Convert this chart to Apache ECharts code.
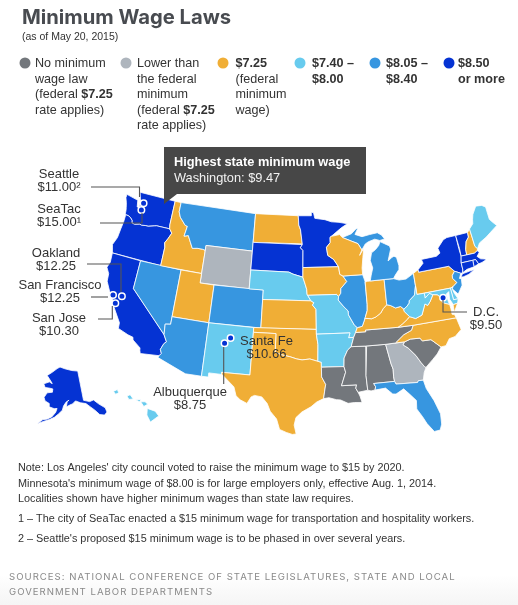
<!DOCTYPE html>
<html>
<head>
<meta charset="utf-8">
<style>html,body{margin:0;padding:0;background:#fff}#main{width:518px;height:605px}</style>
<script src="https://cdn.jsdelivr.net/npm/echarts@6/dist/echarts.min.js"></script>
</head>
<body>
<div id="main"></div>
<script>
// wage groups, one array of states per legend entry
var noLawStates = ['Louisiana', 'Mississippi', 'Alabama', 'Tennessee', 'South Carolina'];
var lowerStates = ['Wyoming', 'Georgia'];
var federalStates = ['Idaho', 'Utah', 'North Dakota', 'Kansas', 'Oklahoma', 'Texas', 'Iowa', 'Wisconsin', 'Indiana', 'Kentucky', 'Pennsylvania', 'North Carolina', 'Virginia', 'New Hampshire'];
var lowMidStates = ['Maine', 'Nebraska', 'Missouri', 'Arkansas', 'New Mexico', 'Hawaii', 'West Virginia', 'Delaware', 'Maryland'];
var highMidStates = ['Montana', 'Nevada', 'Arizona', 'Colorado', 'Illinois', 'Michigan', 'Ohio', 'Florida', 'New Jersey'];
var highStates = ['Washington', 'Oregon', 'California', 'Alaska', 'Minnesota', 'South Dakota', 'New York', 'Vermont', 'Massachusetts', 'Connecticut', 'Rhode Island'];

// localities, [name, wage label, lon, lat] - bay area and seattle pulled apart like the original
var cities = [
    ['Seattle', '$11.00²', -121.8, 47.98],
    ['SeaTac', '$15.00¹', -121.85, 47.22],
    ['Oakland', '$12.25', -121.25, 37.9],
    ['San Francisco', '$12.25', -122.45, 37.77],
    ['San Jose', '$10.30', -121.85, 37.0],
    ['Santa Fe', '$10.66', -105.94, 35.69],
    ['Albuquerque', '$8.75', -106.65, 35.08],
    ['D.C.', '$9.50', -77.04, 38.9]
];

var legendItems = [
    '{n|No minimum}\n{n|wage law}\n{n|(federal }{b|$7.25}\n{n|rate applies)}',
    '{n|Lower than}\n{n|the federal}\n{n|minimum}\n{n|(federal }{b|$7.25}\n{n|rate applies)}',
    '{b|$7.25}\n{n|(federal}\n{n|minimum}\n{n|wage)}',
    '{b|$7.40 –}\n{b|$8.00}',
    '{b|$8.05 –}\n{b|$8.40}',
    '{b|$8.50}\n{b|or more}'
];

var noteLines = [
    "Note: Los Angeles' city council voted to raise the minimum wage to $15 by 2020.",
    "Minnesota's minimum wage of $8.00 is for large employers only, effective Aug. 1, 2014.",
    'Localities shown have higher minimum wages than state law requires.',
    '1 – The city of SeaTac enacted a $15 minimum wage for transportation and hospitality workers.',
    "2 – Seattle's proposed $15 minimum wage is to be phased in over several years."
];
var sourceLines = [
    'SOURCES: NATIONAL CONFERENCE OF STATE LEGISLATURES, STATE AND LOCAL',
    'GOVERNMENT LABOR DEPARTMENTS'
];

// rough state outlines in lon/lat
var stateShapes = {
    'Washington': [[[-124.7,48.38],[-123.1,48.15],[-122.8,48.1],[-122.6,47.4],[-122.3,47.4],[-122.3,48.0],[-122.5,48.4],[-122.8,49],[-117.03,49],[-117.03,46.42],[-116.92,46],[-118.98,46],[-119.3,45.93],[-120.2,45.73],[-120.65,45.73],[-121.2,45.65],[-121.5,45.72],[-122.25,45.55],[-122.7,45.62],[-122.8,45.9],[-123.2,46.15],[-123.55,46.25],[-124.05,46.27],[-124.1,46.7],[-124.2,47],[-124.4,47.5],[-124.7,48]]],
    'Oregon': [[[-124.05,46.27],[-123.55,46.25],[-123.2,46.15],[-122.8,45.9],[-122.7,45.62],[-122.25,45.55],[-121.5,45.72],[-121.2,45.65],[-120.65,45.73],[-120.2,45.73],[-119.3,45.93],[-118.98,46],[-116.92,46],[-116.47,45.6],[-116.85,44.95],[-117.2,44.45],[-117.03,44],[-117.03,42],[-124.2,42],[-124.4,42.5],[-124.55,42.85],[-124.15,43.7],[-124.05,44.7],[-123.95,45.5],[-123.95,46.2]]],
    'California': [[[-124.2,42],[-120,42],[-120,39],[-114.63,35],[-114.14,34.3],[-114.43,34.05],[-114.72,33.4],[-114.5,33],[-114.72,32.72],[-117.12,32.53],[-117.25,32.85],[-117.3,33.1],[-118.4,33.75],[-118.5,34.03],[-119.2,34.15],[-120.6,34.55],[-120.65,35.15],[-121.9,36.6],[-122,36.95],[-122.5,37.5],[-122.5,37.8],[-123,38],[-123.75,39],[-123.85,39.8],[-124.35,40.4],[-124.1,41]]],
    'Nevada': [[[-120,42],[-114.04,42],[-114.04,36.2],[-114.75,36.1],[-114.63,35],[-120,39]]],
    'Idaho': [[[-117.03,49],[-116.05,49],[-116.05,48],[-115.7,47.45],[-114.7,46.7],[-114.35,46.65],[-114.56,45.56],[-113.94,45.7],[-113.45,45.05],[-113,44.45],[-112.3,44.55],[-111.5,44.55],[-111.05,44.48],[-111.05,42],[-117.03,42],[-117.03,44],[-117.2,44.45],[-116.85,44.95],[-116.47,45.6],[-116.92,46],[-117.03,46.42]]],
    'Montana': [[[-116.05,49],[-104.05,49],[-104.05,45],[-111.05,45],[-111.05,44.48],[-111.5,44.55],[-112.3,44.55],[-113,44.45],[-113.45,45.05],[-113.94,45.7],[-114.56,45.56],[-114.35,46.65],[-114.7,46.7],[-115.7,47.45],[-116.05,48]]],
    'Wyoming': [[[-111.05,45],[-104.05,45],[-104.05,41],[-111.05,41]]],
    'Utah': [[[-114.04,42],[-111.05,42],[-111.05,41],[-109.05,41],[-109.05,37],[-114.04,37]]],
    'Arizona': [[[-114.04,37],[-109.05,37],[-109.05,31.33],[-111.07,31.33],[-114.81,32.5],[-114.72,32.72],[-114.5,33],[-114.72,33.4],[-114.43,34.05],[-114.14,34.3],[-114.63,35],[-114.75,36.1],[-114.04,36.2]]],
    'Colorado': [[[-109.05,41],[-102.05,41],[-102.05,37],[-109.05,37]]],
    'New Mexico': [[[-109.05,37],[-103,37],[-103,36.5],[-103.04,32],[-106.62,32],[-106.53,31.78],[-108.2,31.78],[-108.2,31.33],[-109.05,31.33]]],
    'North Dakota': [[[-104.05,49],[-97.23,49],[-97.13,48],[-96.85,47.5],[-96.56,46],[-96.56,45.93],[-104.05,45.93]]],
    'South Dakota': [[[-104.05,45.93],[-96.56,45.93],[-96.85,45.6],[-96.45,45.3],[-96.45,43.5],[-96.45,42.49],[-97.9,42.8],[-98.5,43],[-104.05,43]]],
    'Nebraska': [[[-104.05,43],[-98.5,43],[-97.9,42.8],[-96.45,42.49],[-96.1,41.7],[-95.9,41.2],[-95.85,40.7],[-95.31,40],[-102.05,40],[-102.05,41],[-104.05,41]]],
    'Kansas': [[[-102.05,40],[-95.31,40],[-94.9,39.8],[-95.1,39.55],[-94.62,39.1],[-94.62,37],[-102.05,37]]],
    'Oklahoma': [[[-103,37],[-94.62,37],[-94.62,36.5],[-94.43,35.4],[-94.48,33.64],[-95.5,33.9],[-96.5,33.8],[-97.2,33.9],[-98.1,34.13],[-99.2,34.3],[-100,34.56],[-100,36.5],[-103,36.5]]],
    'Texas': [[[-103,36.5],[-100,36.5],[-100,34.56],[-99.2,34.3],[-98.1,34.13],[-97.2,33.9],[-96.5,33.8],[-95.5,33.9],[-94.48,33.64],[-94.04,33.55],[-94.04,33.02],[-94.04,32],[-93.55,31.2],[-93.7,30.5],[-93.85,29.7],[-94.7,29.35],[-95.4,28.85],[-96.5,28.3],[-97.2,27.7],[-97.4,26.9],[-97.15,25.95],[-97.6,25.9],[-98.3,26.1],[-99.1,26.4],[-99.5,27.5],[-100.3,28.3],[-100.7,29.1],[-101.4,29.77],[-102.3,29.88],[-102.7,29.7],[-103.15,28.98],[-104,29.3],[-104.55,29.7],[-104.9,30.6],[-106.53,31.78],[-106.62,32],[-103.04,32]]],
    'Minnesota': [[[-97.23,49],[-95.15,49],[-95.15,49.38],[-94.8,49.33],[-94.6,48.72],[-93,48.55],[-92,48.3],[-90.8,48.2],[-89.5,48],[-90.5,47.6],[-92.1,46.75],[-92.3,46.65],[-92.3,46.1],[-92.9,45.6],[-92.75,44.75],[-91.9,44.3],[-91.22,43.5],[-96.45,43.5],[-96.45,45.3],[-96.85,45.6],[-96.56,45.93],[-96.56,46],[-96.85,47.5],[-97.13,48]]],
    'Iowa': [[[-96.45,43.5],[-91.22,43.5],[-91.1,42.7],[-90.65,42.5],[-90.15,41.9],[-91.05,41.2],[-91.1,40.7],[-91.42,40.38],[-91.7,40.6],[-95.77,40.58],[-95.85,40.7],[-95.9,41.2],[-96.1,41.7],[-96.45,42.49]]],
    'Missouri': [[[-95.77,40.58],[-91.7,40.6],[-91.42,40.38],[-91.5,40],[-90.75,39.25],[-90.2,38.8],[-90.2,38.4],[-89.5,37.3],[-89.13,37],[-89.4,36.5],[-89.7,36],[-90.37,36],[-90.15,36.5],[-94.62,36.5],[-94.62,39.1],[-95.1,39.55],[-94.9,39.8],[-95.31,40]]],
    'Arkansas': [[[-94.62,36.5],[-90.15,36.5],[-90.37,36],[-89.7,36],[-90.1,35.05],[-90.6,34.7],[-91.1,33.9],[-91.17,33],[-94.04,33.02],[-94.04,33.55],[-94.48,33.64],[-94.43,35.4]]],
    'Louisiana': [[[-94.04,33.02],[-91.17,33],[-91,32.4],[-91.6,31],[-89.73,31],[-89.85,30.65],[-89.6,30.2],[-89.4,29.8],[-89.2,29.1],[-90.1,29.15],[-90.9,29.1],[-91.8,29.5],[-92.3,29.55],[-93.2,29.78],[-93.85,29.7],[-93.7,30.5],[-93.55,31.2],[-94.04,32]]],
    'Mississippi': [[[-90.1,35.05],[-88.2,35],[-88.1,34.9],[-88.47,31.9],[-88.4,30.35],[-89.6,30.2],[-89.85,30.65],[-89.73,31],[-91.6,31],[-91,32.4],[-91.17,33],[-91.1,33.9],[-90.6,34.7]]],
    'Alabama': [[[-88.2,35],[-85.6,34.98],[-85.18,32.87],[-85,32.3],[-85.05,31.5],[-85,31],[-87.6,31],[-87.4,30.65],[-87.5,30.3],[-88,30.25],[-88.4,30.35],[-88.47,31.9],[-88.1,34.9]]],
    'Georgia': [[[-85.6,34.98],[-83.1,35],[-83.35,34.7],[-82.75,34.3],[-81.9,33.4],[-81.4,32.6],[-81,32.05],[-80.85,32.03],[-81.2,31.5],[-81.45,30.72],[-82.05,30.75],[-82.2,30.57],[-84.86,30.7],[-85,31],[-85.05,31.5],[-85,32.3],[-85.18,32.87]]],
    'Florida': [[[-87.6,31],[-85,31],[-84.86,30.7],[-82.2,30.57],[-82.05,30.75],[-81.45,30.72],[-81.25,29.8],[-80.55,28.4],[-80.05,26.9],[-80.12,25.8],[-80.4,25.2],[-81.1,25.15],[-81.8,26.1],[-82.2,26.9],[-82.75,27.8],[-82.65,28.7],[-83.4,29.5],[-84,30.1],[-85,29.65],[-85.4,29.7],[-86.2,30.4],[-87.5,30.3],[-87.4,30.65]]],
    'South Carolina': [[[-83.1,35],[-82.3,35.2],[-81.05,35.15],[-80.8,34.82],[-79.67,34.8],[-78.55,33.86],[-79.2,33.2],[-79.9,32.7],[-80.85,32.03],[-81,32.05],[-81.4,32.6],[-81.9,33.4],[-82.75,34.3],[-83.35,34.7]]],
    'North Carolina': [[[-84.32,35],[-83.1,35],[-82.3,35.2],[-81.05,35.15],[-80.8,34.82],[-79.67,34.8],[-78.55,33.86],[-77.9,33.9],[-77.3,34.55],[-76.5,34.65],[-75.55,35.25],[-75.85,36.55],[-81.68,36.59],[-82,36.1],[-83.1,35.75]]],
    'Tennessee': [[[-90.1,35.05],[-88.2,35],[-85.6,34.98],[-84.32,35],[-83.1,35.75],[-82,36.1],[-81.68,36.59],[-83.68,36.6],[-88.07,36.68],[-88.05,36.5],[-89.4,36.5],[-89.7,36]]],
    'Kentucky': [[[-89.4,36.5],[-88.05,36.5],[-88.07,36.68],[-83.68,36.6],[-83.1,36.85],[-82.3,37.3],[-81.97,37.54],[-82.6,38.17],[-82.6,38.42],[-83,38.73],[-83.7,38.65],[-84.3,38.95],[-84.85,39.1],[-85.4,38.73],[-85.8,38.3],[-86.5,37.95],[-87.1,37.8],[-87.9,37.9],[-88.05,37.8],[-88.45,37.1],[-89.13,37]]],
    'Illinois': [[[-90.65,42.5],[-87.8,42.5],[-87.55,41.8],[-87.53,41.7],[-87.53,39.35],[-87.6,38.7],[-87.95,38],[-88.05,37.8],[-88.45,37.1],[-89.13,37],[-89.5,37.3],[-90.2,38.4],[-90.2,38.8],[-90.75,39.25],[-91.5,40],[-91.42,40.38],[-91.1,40.7],[-91.05,41.2],[-90.15,41.9]]],
    'Indiana': [[[-87.53,41.7],[-87.2,41.75],[-86.8,41.76],[-84.8,41.76],[-84.85,39.1],[-85.4,38.73],[-85.8,38.3],[-86.5,37.95],[-87.1,37.8],[-87.9,37.9],[-88.05,37.8],[-87.95,38],[-87.6,38.7],[-87.53,39.35]]],
    'Ohio': [[[-84.8,41.76],[-83.45,41.73],[-82.7,41.5],[-81.7,41.5],[-80.52,41.97],[-80.52,40.64],[-80.85,39.7],[-81.7,39.2],[-81.75,38.95],[-82.2,38.6],[-82.6,38.42],[-83,38.73],[-83.7,38.65],[-84.3,38.95],[-84.85,39.1]]],
    'Michigan': [
        [[-86.8,41.76],[-84.8,41.76],[-83.45,41.73],[-83.15,42.05],[-82.5,42.6],[-82.42,43],[-82.6,43.9],[-82.95,44.07],[-83.3,43.95],[-83.9,43.65],[-83.3,44.85],[-83.4,45.2],[-84.1,45.5],[-84.75,45.78],[-85,45.4],[-85.55,45],[-86.2,44.7],[-86.5,43.9],[-86.25,43.1],[-86.6,42.3]],
        [[-90.42,46.57],[-89,46.9],[-88.2,47.4],[-87.9,47.47],[-88.45,46.8],[-87.4,46.5],[-86.2,46.65],[-85,46.75],[-84.4,46.45],[-84,46],[-84.75,45.9],[-85.5,46.1],[-86.5,45.9],[-87,45.7],[-87.6,45.1],[-88.1,45.8],[-89,46.1]]
    ],
    'Wisconsin': [[[-92.1,46.75],[-90.8,46.9],[-90.42,46.57],[-89,46.1],[-88.1,45.8],[-87.6,45.1],[-88,44.55],[-87.3,45.25],[-87.55,44.3],[-87.8,43.2],[-87.8,42.5],[-90.65,42.5],[-91.1,42.7],[-91.22,43.5],[-91.9,44.3],[-92.75,44.75],[-92.9,45.6],[-92.3,46.1],[-92.3,46.65]]],
    'Pennsylvania': [[[-80.52,41.97],[-79.76,42.27],[-79.76,42],[-75.35,42],[-74.7,41.36],[-75.13,40.98],[-75.2,40.68],[-74.72,40.15],[-75.4,39.8],[-75.79,39.72],[-80.52,39.72],[-80.52,40.64]]],
    'New York': [
        [[-79.76,42.27],[-78.9,42.85],[-79.05,43.27],[-76.8,43.3],[-76.2,43.55],[-76.35,44.1],[-75.3,44.85],[-74.7,45],[-73.35,45],[-73.35,43.6],[-73.25,43.55],[-73.28,42.75],[-73.5,42.05],[-73.5,41.3],[-73.65,41],[-73.9,41],[-74.7,41.36],[-75.35,42],[-79.76,42]],
        [[-74,40.6],[-73.7,40.9],[-72.6,41],[-71.9,41.05],[-72.8,40.7],[-73.6,40.58]]
    ],
    'Vermont': [[[-73.35,45],[-71.5,45],[-71.55,44.5],[-72.05,44.1],[-72.4,43.3],[-72.45,42.73],[-73.28,42.75],[-73.25,43.55],[-73.35,43.6]]],
    'New Hampshire': [[[-71.5,45],[-71.08,45.3],[-70.98,43.4],[-70.7,43.07],[-70.82,42.87],[-71.3,42.7],[-72.45,42.73],[-72.4,43.3],[-72.05,44.1],[-71.55,44.5]]],
    'Maine': [[[-71.08,45.3],[-70.4,45.75],[-70.25,46.2],[-70,46.7],[-69.23,47.46],[-68.3,47.35],[-67.8,47.07],[-67.8,45.7],[-67.45,45.3],[-67,44.85],[-68.2,44.35],[-69,44],[-70.2,43.6],[-70.7,43.07],[-70.98,43.4]]],
    'Massachusetts': [[[-73.5,42.05],[-73.28,42.75],[-72.45,42.73],[-71.3,42.7],[-70.82,42.87],[-70.6,42.65],[-71.05,42.3],[-70.65,41.95],[-70,41.8],[-70.2,42.08],[-69.95,41.7],[-70.6,41.55],[-71.12,41.5],[-71.38,42.02],[-71.8,42.02]]],
    'Rhode Island': [[[-71.8,42.02],[-71.38,42.02],[-71.12,41.5],[-71.85,41.32]]],
    'Connecticut': [[[-73.5,42.05],[-71.8,42.02],[-71.85,41.32],[-72.9,41.25],[-73.65,41],[-73.5,41.3]]],
    'New Jersey': [[[-74.7,41.36],[-73.9,41],[-74.25,40.5],[-74,40.45],[-74.1,39.75],[-74.9,38.93],[-75.4,39.45],[-75.55,39.62],[-75.4,39.8],[-74.72,40.15],[-75.2,40.68],[-75.13,40.98]]],
    'Delaware': [[[-75.79,39.72],[-75.4,39.8],[-75.55,39.62],[-75.4,39.1],[-75.05,38.45],[-75.7,38.46]]],
    'Maryland': [[[-79.48,39.72],[-75.79,39.72],[-75.7,38.46],[-75.05,38.45],[-75.25,38.03],[-75.85,37.95],[-76.2,38.6],[-76.1,39.4],[-76.5,39.2],[-76.45,38.4],[-76.35,38.05],[-77,38.3],[-77.25,38.4],[-77.04,38.85],[-77.5,39.1],[-77.75,39.3],[-78.35,39.4],[-78.8,39.6],[-79.48,39.2]]],
    'Virginia': [
        [[-83.68,36.6],[-81.68,36.59],[-75.85,36.55],[-76,36.93],[-76.3,37],[-76.3,37.6],[-76.35,38.05],[-77,38.3],[-77.25,38.4],[-77.04,38.85],[-77.5,39.1],[-77.75,39.3],[-78.35,39.4],[-78.87,38.77],[-79.3,38.4],[-79.65,38.6],[-80.3,37.5],[-81.2,37.25],[-81.97,37.54],[-82.3,37.3],[-83.1,36.85]],
        [[-75.25,38.03],[-75.9,37.95],[-75.95,37.15]]
    ],
    'West Virginia': [[[-80.52,40.64],[-80.52,39.72],[-79.48,39.72],[-79.48,39.2],[-78.8,39.6],[-78.35,39.4],[-78.87,38.77],[-79.3,38.4],[-79.65,38.6],[-80.3,37.5],[-81.2,37.25],[-81.97,37.54],[-82.6,38.17],[-82.6,38.42],[-82.2,38.6],[-81.75,38.95],[-81.7,39.2],[-80.85,39.7]]],
    'Alaska': [[[-141,69.65],[-141,60.6],[-137.5,59.8],[-135,60],[-132.8,58.4],[-130,56.6],[-129.95,55.2],[-131.7,54.6],[-134,55.2],[-136,57],[-138,58.3],[-140,59.5],[-143,60],[-146,60.8],[-148,60],[-149.8,59.7],[-151.8,59.2],[-151.2,60.8],[-150,61.2],[-152,60.6],[-153.5,59.5],[-154.2,58.2],[-156.5,57],[-158.5,56],[-161,55.2],[-163,54.7],[-167,53.4],[-164.5,54.9],[-162.5,55.2],[-160,56],[-158,57.5],[-157.3,58.7],[-159,58.6],[-162,59],[-162.2,60],[-165,60.6],[-166,61.6],[-165,62.6],[-164.5,63.1],[-161,63.5],[-161,64.5],[-163,64.6],[-166.5,64.6],[-168,65.6],[-164,66.5],[-163,66.2],[-161.8,66.1],[-163.8,67.1],[-166.7,68.3],[-163,69.5],[-159,70.8],[-156.5,71.35],[-152,70.8],[-146,70.1]]],
    'Hawaii': [
        [[-156,20.3],[-155.1,20],[-154.7,19.5],[-155.65,18.85],[-156.05,19.6]],
        [[-156.75,21],[-156.25,21],[-155.95,20.75],[-156.4,20.5]],
        [[-157.35,21.25],[-156.7,21.22],[-156.9,21]],
        [[-158.3,21.6],[-157.95,21.75],[-157.6,21.3],[-158.1,21.25]],
        [[-159.85,22.1],[-159.4,22.3],[-159.25,21.95],[-159.6,21.8]]
    ]
};

var NAVY = '#0533d3';
var TEXT = '#333';
var FONT = '"Liberation Sans", Arial, sans-serif';

var groups = [
    { states: noLawStates, color: '#73777c' },
    { states: lowerStates, color: '#aeb5bd' },
    { states: federalStates, color: '#f0ae36' },
    { states: lowMidStates, color: '#68cbee' },
    { states: highMidStates, color: '#3796e0' },
    { states: highStates, color: NAVY }
];

// Albers conic, same idea as d3 albersUsa with insets for AK and HI
function conic(lon, lat, lon0, lat0, p1, p2) {
    var r = Math.PI / 180;
    var n = (Math.sin(p1 * r) + Math.sin(p2 * r)) / 2;
    var c = Math.pow(Math.cos(p1 * r), 2) + 2 * n * Math.sin(p1 * r);
    var rho = Math.sqrt(c - 2 * n * Math.sin(lat * r)) / n;
    var rho0 = Math.sqrt(c - 2 * n * Math.sin(lat0 * r)) / n;
    var t = n * (lon - lon0) * r;
    return [rho * Math.sin(t), rho0 - rho * Math.cos(t)];
}
var akAnchor = conic(-156.5, 71.35, -154, 60, 55, 65);

function project(pt) {
    var lon = pt[0], lat = pt[1], q;
    if (lat > 50 && lon < -129.9) {
        q = conic(lon, lat, -154, 60, 55, 65);
        return [60 + 189 * (q[0] - akAnchor[0]), 367 - 189 * (q[1] - akAnchor[1])];
    }
    if (lat < 24 && lon < -130) {
        return [151.7 + 8.8 * (lon + 155.5), 415 - 9.44 * (lat - 19.6)];
    }
    q = conic(lon, lat, -96, 37.5, 29.5, 45.5);
    return [306 + 541 * q[0], 324.7 - 541 * q[1]];
}

// geo box is the bounding box of the projected shapes, so projection output stays in page pixels
var minX = 1e9, minY = 1e9, maxX = -1e9, maxY = -1e9;
var features = [];
Object.keys(stateShapes).forEach(function (name) {
    stateShapes[name].forEach(function (ring) {
        ring.forEach(function (pt) {
            var p = project(pt);
            minX = Math.min(minX, p[0]); maxX = Math.max(maxX, p[0]);
            minY = Math.min(minY, p[1]); maxY = Math.max(maxY, p[1]);
        });
    });
    features.push({
        type: 'Feature',
        properties: { name: name },
        geometry: { type: 'MultiPolygon', coordinates: stateShapes[name].map(function (r) { return [r.concat([r[0]])]; }) }
    });
});
echarts.registerMap('usStates', { type: 'FeatureCollection', features: features });

var regions = [];
groups.forEach(function (g) {
    g.states.forEach(function (s) {
        regions.push({ name: s, itemStyle: { areaColor: g.color } });
    });
});

// --- annotations
var graphics = [];
function addText(text, x, y, size, opts) {
    opts = opts || {};
    graphics.push({
        type: 'text', x: x, y: y, z: 100, zlevel: opts.zlevel || 0, silent: true,
        style: {
            text: text,
            fill: opts.color || TEXT,
            fontSize: size,
            fontFamily: opts.family || FONT,
            fontWeight: opts.weight || 'normal',
            textAlign: opts.align || 'left',
            textVerticalAlign: 'middle'
        }
    });
}
function addLeader(points) {
    graphics.push({
        type: 'polyline', z: 90, silent: true,
        shape: { points: points },
        style: { stroke: '#555', lineWidth: 1.1, fill: null }
    });
}

addText('Minimum Wage Laws', 22, 18, 20.2, { weight: 'bold', color: '#484b50', family: 'Inter' });
addText('(as of May 20, 2015)', 22, 37, 10.5);

var legendDotX = [25, 126, 223, 300, 375, 449];
var legendTextX = [35, 137, 235.5, 312, 386, 458];
legendItems.forEach(function (t, i) {
    graphics.push({
        type: 'circle', z: 100, silent: true,
        shape: { cx: legendDotX[i], cy: 63, r: 5.5 },
        style: { fill: groups[i].color }
    });
    graphics.push({
        type: 'text', x: legendTextX[i], y: 56, z: 100, silent: true,
        style: {
            text: t,
            fontFamily: FONT,
            fill: TEXT,
            rich: {
                n: { fontSize: 12.6, fontFamily: FONT, color: TEXT, lineHeight: 15.5 },
                b: { fontSize: 12.6, fontFamily: FONT, fontWeight: 'bold', color: TEXT, lineHeight: 15.5 }
            }
        }
    });
});

// highest state callout
graphics.push({ type: 'polygon', z: 95, silent: true, shape: { points: [[164, 147], [366, 147], [366, 194], [177, 194], [164, 204]] }, style: { fill: '#474747' } });
addText('Highest state minimum wage', 174, 162, 12.8, { weight: 'bold', color: '#fff' });
addText('Washington: $9.47', 174, 178, 12.8, { color: '#f2f2f2' });

// leader lines and locality labels
var cityLabels = {
    'Seattle': { x: 59, y: 174, line: [[91, 187], [139.5, 187], [139.5, 197]] },
    'SeaTac': { x: 59, y: 209, line: [[100, 223], [142, 223], [142, 213]] },
    'Oakland': { x: 56, y: 253, line: [[87, 264], [121, 264], [121, 292]] },
    'San Francisco': { x: 60, y: 285, line: [[91, 297], [108, 297]] },
    'San Jose': { x: 59, y: 318, line: [[98, 319], [112.3, 319], [112.3, 306]] },
    'Santa Fe': { x: 266.5, y: 341 },
    'Albuquerque': { x: 190, y: 392, line: [[223.7, 347], [223.7, 384]] },
    'D.C.': { x: 486, y: 312, line: [[443, 300], [443, 312], [467, 312]] }
};
cities.forEach(function (c) {
    var l = cityLabels[c[0]];
    if (l.line) addLeader(l.line);
    addText(c[0], l.x, l.y, 13, { align: 'center' });
    addText(c[1], l.x, l.y + 13, 13, { align: 'center' });
});

// footnotes
var noteY = [468, 484, 499, 519, 539];
noteLines.forEach(function (t, i) {
    addText(t, 18, noteY[i], 10.85);
});
graphics.push({
    type: 'rect', z: 1, silent: true,
    shape: { x: 0, y: 575, width: 518, height: 30 },
    style: { fill: new echarts.graphic.LinearGradient(0, 0, 0, 1, [{ offset: 0, color: '#fff' }, { offset: 1, color: '#f5f5f5' }]) }
});
// sources sit on their own canvas layer so the tracking below only touches them
sourceLines.forEach(function (t, i) {
    addText(t, 9, 577 + i * 15, 9.6, { color: '#8a8a8a', family: 'Inter', zlevel: 1 });
});

var chart = echarts.init(document.getElementById('main'));
chart.getZr().painter.getLayer(1).ctx.letterSpacing = '1px';
chart.setOption({
    animation: false,
    backgroundColor: '#fff',
    geo: {
        map: 'usStates',
        projection: {
            project: project,
            unproject: function (p) { return p; }
        },
        roam: false,
        silent: true,
        left: minX,
        top: minY,
        width: maxX - minX,
        height: maxY - minY,
        regions: regions,
        label: { show: false },
        itemStyle: { borderColor: '#fff', borderWidth: 0.8 }
    },
    graphic: { elements: graphics },
    series: [{
        type: 'scatter',
        coordinateSystem: 'geo',
        geoIndex: 0,
        silent: true,
        symbolSize: 6.5,
        z: 20,
        itemStyle: { color: NAVY, borderColor: '#fff', borderWidth: 1.5, opacity: 1 },
        data: cities.map(function (c) {
            return { name: c[0], value: [c[2], c[3], c[1]] };
        })
    }]
});
</script>
</body>
</html>
